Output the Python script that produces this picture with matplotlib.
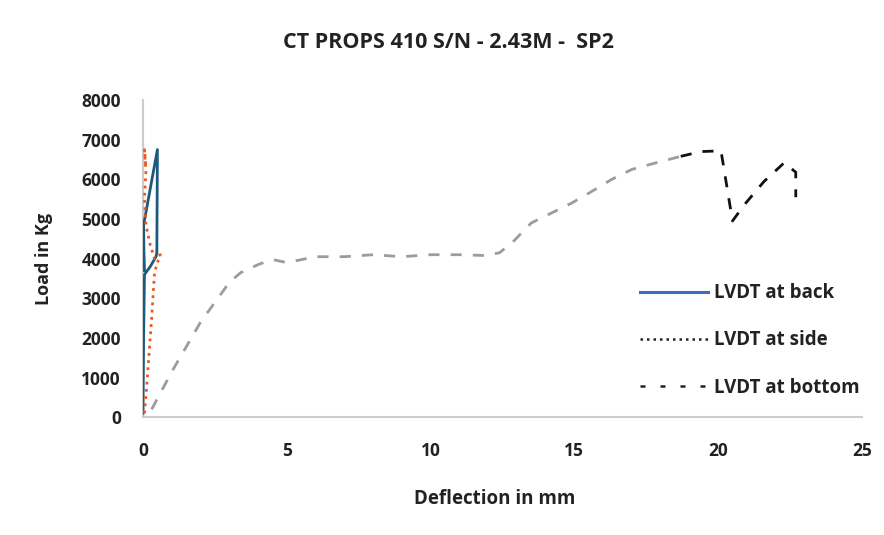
import numpy as np
import matplotlib.pyplot as plt
from matplotlib.lines import Line2D

plt.rcParams['font.family'] = ['Open Sans', 'DejaVu Sans']

# LVDT at back (blue solid)
back_x = [0.0, 0.02, 0.05, 0.25, 0.45, 0.48, 0.5, 0.02, 0.03, 0.05]
back_y = [100, 2000, 3600, 3800, 4050, 4150, 6750, 4850, 4200, 3700]

# LVDT at side (orange dotted)
side_x = [0.05, 0.15, 0.3, 0.4, 0.5, 0.6, 0.4, 0.25, 0.1, 0.05, 0.1, 0.05, 0.1]
side_y = [100, 1000, 2500, 3650, 3900, 4100, 4000, 4350, 4850, 5500, 6200, 6750, 6300]

# LVDT at bottom (dashed)
bot_x = [0.3, 1.0, 2.0, 3.0, 3.4, 4.0, 4.5, 5.0, 6.0, 7.0, 8.0, 9.0, 10.0, 11.0, 11.9,
         12.4, 12.9, 13.5, 14.2, 14.9, 15.5, 16.3, 17.0, 17.9, 18.7, 19.4, 20.1,
         20.5, 20.9, 21.6, 22.3, 22.7, 22.7]
bot_y = [200, 1150, 2400, 3400, 3650, 3850, 3980, 3900, 4050, 4050, 4100, 4050, 4100, 4100, 4080,
         4150, 4450, 4900, 5150, 5400, 5650, 6000, 6250, 6430, 6580, 6700, 6720,
         4950, 5350, 5950, 6420, 6180, 5550]

labels = ['LVDT at back', 'LVDT at side', 'LVDT at bottom']

fig = plt.figure(figsize=(8.84, 5.35), dpi=100)
ax = fig.add_axes([0.1618, 0.22, 0.8132, 0.593])

ax.plot(back_x, back_y, color='#1b5a7e', lw=2.0, zorder=3)
ax.plot(side_x, side_y, color='#f0561c', lw=2.0, ls=(0, (1, 1.6)), zorder=4)
split = 24
ax.plot(bot_x[:split + 1], bot_y[:split + 1], color='#9c9c9c', lw=2.0, ls=(0, (4, 4)), zorder=2)
ax.plot(bot_x[split:], bot_y[split:], color='#111111', lw=2.0, ls=(0, (4, 4)), zorder=2)

ax.set_xlim(0, 25)
ax.set_ylim(0, 8000)
ax.set_xticks(np.arange(0, 26, 5))
ax.set_yticks(np.arange(0, 8001, 1000))
ax.tick_params(axis='y', length=0, labelsize=12.5, pad=16)
ax.tick_params(axis='x', length=0, labelsize=12.5, pad=18)
for lab in ax.get_xticklabels() + ax.get_yticklabels():
    lab.set_fontweight('bold')
    lab.set_color('#222222')
for s in ['top', 'right']:
    ax.spines[s].set_visible(False)
for s in ['left', 'bottom']:
    ax.spines[s].set_color('#cccccc')
    ax.spines[s].set_linewidth(1.5)

fig.text(0.507, 0.921, 'CT PROPS 410 S/N - 2.43M -  SP2', fontsize=15.5, fontweight='bold',
         color='#222222', ha='center', va='center')
fig.text(0.56, 0.068, 'Deflection in mm', fontsize=13.5, fontweight='bold', color='#222222',
         ha='center', va='center')
ax.set_ylabel('Load in Kg', fontsize=13, fontweight='bold', color='#222222', labelpad=20)

handles = [Line2D([], [], color='#3a70b8', lw=2.2),
           Line2D([], [], color='#222222', lw=1.8, ls=(0, (1, 1.6))),
           Line2D([], [], color='#222222', lw=1.8, ls=(0, (2, 6)))]
leg = fig.legend(handles, labels, loc='upper left', bbox_to_anchor=(0.705, 0.502),
                 frameon=False, fontsize=13.5, handlelength=3.6, handletextpad=0.35,
                 labelspacing=1.45)
for t in leg.get_texts():
    t.set_fontweight('bold')
    t.set_color('#222222')

fig.savefig('out.png', dpi=100)
